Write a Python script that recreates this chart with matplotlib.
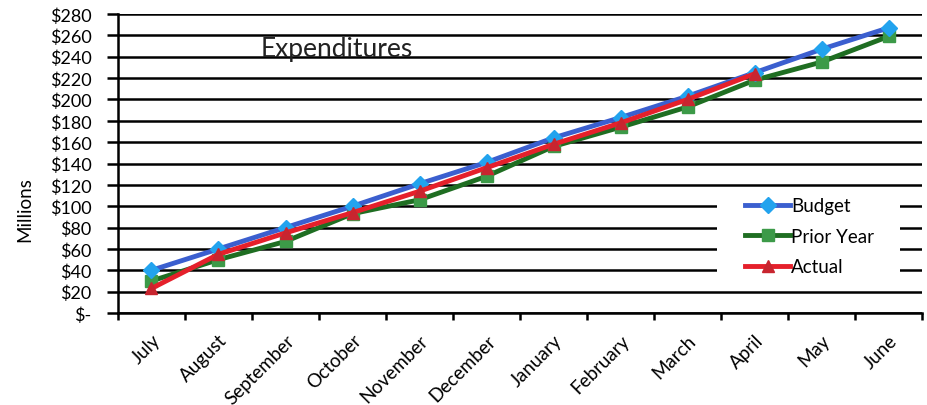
import matplotlib
matplotlib.use("Agg")
import matplotlib.pyplot as plt
from matplotlib.patches import Rectangle
import numpy as np

months = ["July", "August", "September", "October", "November", "December",
          "January", "February", "March", "April", "May", "June"]
budget = [40, 60, 80, 100, 121, 141, 164, 183, 203, 225, 247, 267]
prior_year = [30, 50, 67, 93, 106, 128, 156, 174, 193, 218, 235, 259]
actual = [23, 55, 75, 94, 114, 136, 158, 178, 200, 224, None, None]
yticks = list(range(0, 281, 20))
ytick_labels = ["$-"] + [f"${v}" for v in yticks[1:]]

plt.rcParams['font.family'] = ['Lato', 'DejaVu Sans']

fig = plt.figure(figsize=(9.28, 4.06), dpi=100)
ax = fig.add_axes([118/928, 1-314/406, (922-118)/928, (314-15)/406])

x = np.arange(len(months)) + 0.5
ax.plot(x, budget, color="#3B5FCF", lw=3.5, marker="D", ms=8,
        mfc="#22A3EE", mec="#22A3EE", label="Budget", zorder=5)
ax.plot(x, prior_year, color="#1F6E22", lw=3.5, marker="s", ms=8,
        mfc="#3C9A48", mec="#3C9A48", label="Prior Year", zorder=4)
act = np.array([np.nan if v is None else v for v in actual], dtype=float)
ax.plot(x, act, color="#E5202B", lw=3.5, marker="^", ms=9,
        mfc="#C8252F", mec="#C8252F", label="Actual", zorder=6)

ax.set_xlim(0, len(months))
ax.set_ylim(0, 280)
ax.set_yticks(yticks)
ax.set_yticklabels(ytick_labels, fontsize=13)
ax.yaxis.grid(True, color="black", lw=1.8)
ax.set_axisbelow(True)
ax.tick_params(axis="y", length=8, width=1.8, color="black", pad=11)
ax.set_xticks(np.arange(len(months) + 1), minor=False)
ax.set_xticklabels([""] * (len(months) + 1))
ax.set_xticks(x, minor=True)
ax.set_xticklabels(months, minor=True, rotation=45, ha="right",
                   rotation_mode="anchor", fontsize=13.5)
ax.tick_params(axis="x", which="major", length=5, width=1.8, direction="out")
ax.tick_params(axis="x", which="minor", length=0, pad=13)
for s in ["top", "right"]:
    ax.spines[s].set_visible(False)
ax.spines["left"].set_linewidth(1.8)
ax.spines["bottom"].set_linewidth(1.8)

ax.set_ylabel("Millions", fontsize=13.5)
ax.yaxis.set_label_coords(-0.105, 0.35)

ax.text(0.178, 0.885, "Expenditures", transform=ax.transAxes, fontsize=19,
        ha="left", va="center", color="#222222")

# white background behind the legend (gridlines are interrupted there)
bg = Rectangle((0.745, 0.097), 0.228, 0.318, transform=ax.transAxes,
               facecolor="white", edgecolor="none", zorder=2)
ax.add_patch(bg)

leg = ax.legend(loc="lower left", bbox_to_anchor=(0.780, 0.126),
                frameon=False, fontsize=13.5, handlelength=2.4,
                handletextpad=0.05, borderpad=0, borderaxespad=0,
                labelspacing=0.72)
leg.set_zorder(7)

fig.savefig("out.png", dpi=100)
